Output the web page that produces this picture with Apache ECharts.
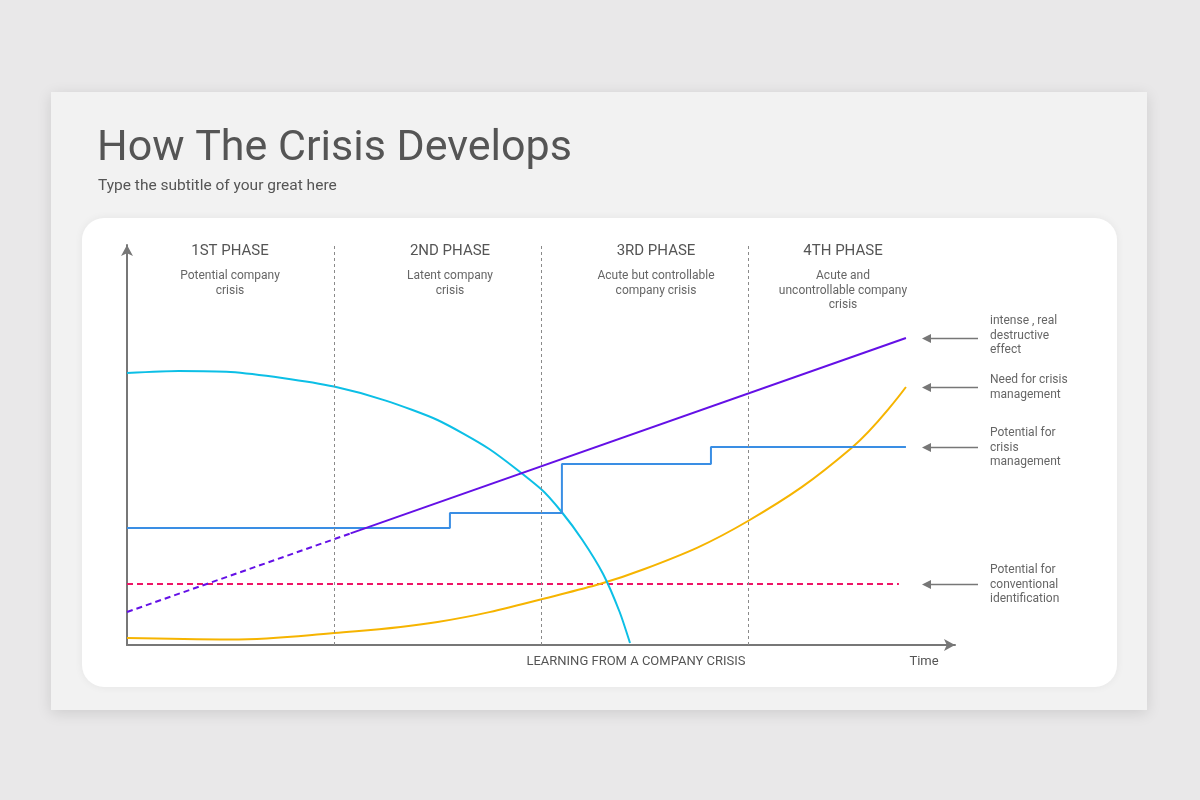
<!DOCTYPE html>
<html><head><meta charset="utf-8">
<script src="https://cdn.jsdelivr.net/npm/echarts@6/dist/echarts.min.js"></script>
<style>html,body{margin:0;padding:0;background:#e9e8e9}#c{width:1200px;height:800px}</style>
</head><body><div id="c"></div>
<script>
// ---- data ----
const phaseNames = ['1ST PHASE', '2ND PHASE', '3RD PHASE', '4TH PHASE'];
const phaseDescriptions = ['Potential company\ncrisis', 'Latent company\ncrisis', 'Acute but controllable\ncompany crisis', 'Acute and\nuncontrollable company\ncrisis'];
const phaseBoundaries = [1, 2, 3];
// cyan curve
const crisisCurve = [[0,68],[0.25,68.5],[0.5,68.25],[0.75,66.75],[1.0,64.6],[1.25,61.1],[1.5,56.25],[1.75,49],[2.0,39],[2.1,33.25],[2.2,26.25],[2.3,17.75],[2.38,8.25],[2.43,0.5]];
// yellow curve: need for crisis management
const needCurve = [[0,1.75],[0.5,1.4],[1.0,3],[1.5,5.75],[2.0,11.4],[2.5,19],[3.0,31],[3.5,49.25],[3.763,64.5]];
// purple line: intense, real destructive effect
const destructiveLatent = [[0,8.25],[1.08,27.9]];
const destructiveActive = [[1.08,27.9],[3.763,76.75]];
// blue steps: potential for crisis management
const managementSteps = [[0,29.25],[1.56,33],[2.101,45.25],[2.821,49.5],[3.763,49.5]];
// red dashed: potential for conventional identification
const identificationLevel = [[0,15.25],[3.729,15.25]];
const sideLabels = ['intense , real\ndestructive\neffect', 'Need for crisis\nmanagement', 'Potential for\ncrisis\nmanagement', 'Potential for\nconventional\nidentification'];
const sideLabelSources = [destructiveActive, needCurve, managementSteps, identificationLevel];
const titleText = 'How The Crisis Develops';
const subtitleText = 'Type the subtitle of your great here';
const xAxisTitle = 'LEARNING FROM A COMPANY CRISIS';
const xAxisEnd = 'Time';

// ---- layout ----
const FONT = 'Roboto, "Noto Sans", sans-serif';
const phaseLabelX = [230, 450, 656, 843];
const colors = {cyan:'#0cbfe6', yellow:'#f6b400', purple:'#6410e6', blue:'#3a8ee4', red:'#ee1566', axis:'#777777'};

const chart = echarts.init(document.getElementById('c'), null, {renderer:'canvas'});

const line = (name, data, color, extra) => Object.assign({
  name, type:'line', data, showSymbol:false, symbol:'none', silent:true,
  lineStyle:{color, width:2}, z:3
}, extra || {});

const option = {
  backgroundColor:'#e9e8e9',
  animation:false,
  grid:{left:127, right:245, top:245, bottom:155},
  xAxis:{type:'value', min:0, max:4, axisLine:{show:true, symbol:['none','arrow'], symbolSize:[9,11], lineStyle:{color:colors.axis, width:2}},
    axisTick:{show:false}, axisLabel:{show:false}, splitLine:{show:false}},
  yAxis:{type:'value', min:0, max:100, axisLine:{show:true, symbol:['none','arrow'], symbolSize:[9,11], lineStyle:{color:colors.axis, width:2}},
    axisTick:{show:false}, axisLabel:{show:false}, splitLine:{show:false}},
  series:[
    line('Phases', [], '#888', {markLine:{silent:true, symbol:'none', label:{show:false},
      lineStyle:{color:'#8a8a8a', width:1, type:[3,3]}, data:phaseBoundaries.map(v=>({xAxis:v}))}}),
    line('Identification', identificationLevel, colors.red, {lineStyle:{color:colors.red, width:2, type:[6,4]}}),
    line('Need', needCurve, colors.yellow, {smooth:0.4}),
    line('Crisis', crisisCurve, colors.cyan, {smooth:0.22}),
    line('Management', managementSteps, colors.blue, {step:'end'}),
    line('Latent', destructiveLatent, colors.purple, {lineStyle:{color:colors.purple, width:2, type:[6,4]}}),
    line('Active', destructiveActive, colors.purple)
  ]
};
chart.setOption(option);

// graphics
const g = [];
g.push({type:'rect', z:-20, shape:{x:51, y:92, width:1096, height:618}, style:{fill:'#f2f2f2', shadowBlur:14, shadowColor:'rgba(0,0,0,0.12)', shadowOffsetY:3}});
g.push({type:'rect', z:-10, shape:{x:82, y:218, width:1035, height:469, r:22}, style:{fill:'#ffffff', shadowBlur:8, shadowColor:'rgba(0,0,0,0.06)'}});
g.push({type:'text', z:100, style:{x:97, y:149, text:titleText, font:'400 43px ' + FONT, fill:'#555555', verticalAlign:'middle'}});
g.push({type:'text', z:100, style:{x:98, y:186, text:subtitleText, font:'400 15.5px ' + FONT, fill:'#555555', verticalAlign:'middle'}});
phaseNames.forEach((n,i)=>{
  g.push({type:'text', z:100, style:{x:phaseLabelX[i], y:251, text:n, font:'400 15px ' + FONT, fill:'#555555', align:'center', verticalAlign:'middle'}});
  g.push({type:'text', z:100, style:{x:phaseLabelX[i], y:269, text:phaseDescriptions[i], font:'400 12px ' + FONT, lineHeight:14.5, fill:'#666666', align:'center', verticalAlign:'top'}});
});
const axisY = chart.convertToPixel({gridIndex:0}, [0,0])[1];
g.push({type:'text', z:100, style:{x:636, y:axisY+17, text:xAxisTitle, font:'400 13px ' + FONT, fill:'#555555', align:'center', verticalAlign:'middle'}});
g.push({type:'text', z:100, style:{x:924, y:axisY+17, text:xAxisEnd, font:'400 13px ' + FONT, fill:'#555555', align:'center', verticalAlign:'middle'}});
const labelOffsets = [-3, 0, 0, 0];
sideLabelSources.forEach((src,i)=>{
  const last = src[src.length-1];
  const y = Math.round(chart.convertToPixel({gridIndex:0}, last)[1]) + 0.5;
  g.push({type:'line', z:100, shape:{x1:978, y1:y, x2:930, y2:y}, style:{stroke:'#777777', lineWidth:1.5}});
  g.push({type:'polygon', z:100, shape:{points:[[922,y],[931,y-4.5],[931,y+4.5]]}, style:{fill:'#777777'}});
  g.push({type:'text', z:100, style:{x:990, y:y+labelOffsets[i], text:sideLabels[i], font:'400 12px ' + FONT, lineHeight:14.5, fill:'#666666', verticalAlign:'middle'}});
});
chart.setOption({graphic:{elements:g}});
</script></body></html>
